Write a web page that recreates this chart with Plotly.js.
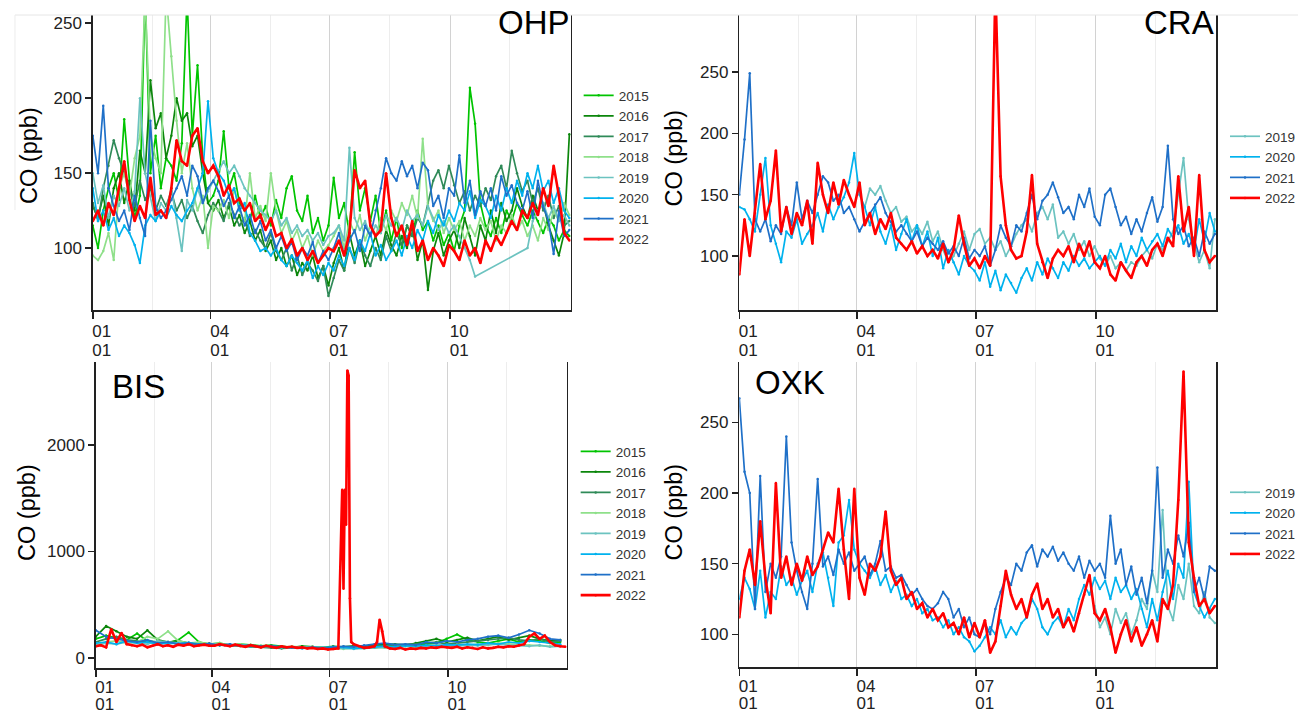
<!DOCTYPE html>
<html><head><meta charset="utf-8">
<script src="https://cdn.plot.ly/plotly-3.0.1.min.js"></script>
<style>html,body{margin:0;padding:0;background:#fff}#chart{width:1301px;height:713px}</style>
</head><body><div id="chart"></div>
<script>
// ---------- DATA ----------
const years = ['2015','2016','2017','2018','2019','2020','2021','2022'];
const stations = ['OHP','CRA','BIS','OXK'];
const monthLabels = ['01','04','07','10'];
const dayLabels = ['01','01','01','01'];
const tickDates = ['2022-01-01','2022-04-01','2022-07-01','2022-10-01'];
const minorDates = ['2022-02-15 06:00','2022-05-16 18:00','2022-08-16','2022-11-15 12:00'];
function gap(n){ const a=[]; for(let i=0;i<n;i++) a.push(null); return a; }

// sampling grids (day of year)
const days4 = []; for (let d=0; d<=364; d+=4) days4.push(d);
const days8 = []; for (let d=0; d<=360; d+=8) days8.push(d);

// OHP (8 years, 4-day samples)
const ohp2015 = [115,100,125,140,150,132,186,145,120,135,270,150,175,140,160,155,145,170,268,175,222,160,130,
 135,145,178,140,150,130,125,118,135,120,128,115,132,120,140,148,125,118,135,110,120,105,115,
 147,120,130,110,164,125,140,118,135,110,125,105,120,100,115,108,125,112,118,105,115,102,110,
 98,115,125,207,183,130,115,108,120,110,125,118,130,122,115,125,118,110,120,115,105,112,108];
const ohp2016 = [128,120,135,115,140,150,130,145,125,165,150,212,180,190,160,175,200,185,190,168,175,150,130,
 125,132,120,128,115,122,110,118,105,112,98,105,92,100,88,95,82,90,85,95,80,88,75,
 90,100,85,110,95,105,88,98,108,95,112,102,95,108,100,115,92,105,72,98,110,95,105,
 112,100,120,108,95,115,105,125,110,130,118,125,140,128,120,135,125,130,115,105,95,110,176];
const ohp2017 = [130,118,140,155,172,160,150,140,128,145,132,140,125,135,128,138,125,132,120,128,118,110,122,
 130,125,118,130,122,115,120,108,112,105,100,110,98,92,100,85,95,82,90,85,78,88,68,
 80,92,85,100,90,105,95,88,100,92,108,98,110,102,115,108,120,115,130,145,152,140,155,
 142,130,138,125,135,128,140,132,148,155,140,165,150,138,145,130,140,125,135,120,128,115,118];
const ohp2018 = [95,92,98,110,92,140,150,135,160,175,268,175,160,150,270,228,185,150,170,140,125,135,100,
 128,125,132,120,140,125,118,150,120,128,118,150,125,110,118,105,112,100,108,95,105,98,102,
 108,115,100,118,110,122,105,115,108,120,112,125,118,130,122,135,120,173,128,118,125,110,120,
 112,118,105,115,108,120,112,118,105,115,110,122,112,118,108,115,105,120,112,125,118,130,122];
const ohp2019 = [150,130,142,120,135,128,140,125,138,200,150,135,118,130,125,140,120,98,132,125,140,130,138,
 145,152,158,150,155,148,140,135,130,125,122,118,125,115,120,110,115,108,112,105,110,102,108,
 110,115,105,167,120,112,118,108,115,110,122,115,120,112,125,118,122,115,128,120,112,118,110,
 115,108,100,92,81,null,null,null,null,null,null,null,null,null,100,118,125,130,120,128,118,122,115];
const ohp2020 = [140,118,125,112,120,108,115,110,102,90,115,122,118,125,120,128,122,118,125,130,140,150,198,
 160,150,145,135,140,125,130,110,105,98,100,95,100,92,88,95,90,85,92,80,88,82,90,
 85,95,88,100,92,105,98,110,95,102,92,98,105,95,108,100,112,105,118,110,122,115,125,
 118,130,125,138,120,132,128,120,135,125,140,130,145,135,150,140,155,138,145,130,140,125,120];
const ohp2021 = [175,150,195,140,128,118,125,112,135,120,108,185,128,120,125,132,140,148,135,155,148,130,140,
 145,138,128,135,120,128,115,122,110,118,105,112,100,108,98,104,92,100,95,104,90,98,92,
 100,110,95,105,112,98,115,108,125,140,160,150,145,158,148,155,140,157,152,128,135,120,140,
 135,162,130,145,122,138,128,140,125,148,135,142,130,125,138,120,145,128,118,96,125,108,112];
const ohp2022 = [118,125,115,130,122,140,158,132,118,128,120,147,122,125,120,140,172,158,155,175,180,158,150,
 155,148,135,142,130,133,125,130,118,122,112,120,108,110,100,106,95,100,92,98,90,95,100,
 98,105,95,110,152,140,145,115,108,112,150,120,108,115,102,118,98,105,92,100,95,88,102,
 98,92,105,95,100,90,105,98,108,102,110,118,112,125,120,130,122,140,128,155,135,110,105];

// CRA (2019-2022, 4-day samples)
const cra2019 = gap(23).concat([null,140,155,150,157,145,135,140,128,132,120,125,118,128,112,120,105,95,100,110,120,105,118,
 122,110,115,105,112,100,108,118,125,130,120,135,140,130,142,115,120,110,118,105,112,100,108,
 98,92,100,90,95,88,95,92,100,105,98,110,105,112,120,150,180,130,110,95,105,90,130]);
const cra2020 = [140,138,130,120,150,180,125,110,95,120,115,130,110,118,125,135,120,142,130,140,148,160,184,
 150,140,125,140,120,110,125,105,118,130,112,125,108,120,100,115,90,105,95,85,100,92,88,
 80,95,75,88,72,85,78,70,82,90,80,95,85,98,90,82,95,88,100,92,98,90,95,
 100,92,105,98,110,95,108,100,115,105,112,118,108,122,115,125,110,118,105,130,112,135,120];
const cra2021 = [150,195,249,130,120,130,112,125,118,140,125,160,130,145,135,150,165,160,145,150,135,140,130,
 120,128,135,142,148,135,128,120,125,118,112,120,108,115,110,105,112,102,108,100,115,98,105,
 100,108,92,105,125,115,108,125,120,135,150,130,145,150,160,148,135,140,130,150,140,155,132,
 125,150,155,140,125,132,118,130,120,135,148,128,140,190,130,118,125,108,115,100,120,110,118];
const cra2022 = [85,130,100,135,175,130,145,186,120,140,118,135,125,145,110,176,150,135,160,142,162,150,140,
 160,125,135,118,130,122,135,115,110,105,112,102,108,100,105,98,110,95,105,133,110,92,98,
 90,100,92,320,165,125,105,98,100,120,166,110,95,82,98,105,100,108,95,110,100,112,95,
 90,100,85,80,95,88,82,95,100,92,105,110,100,115,108,165,120,140,100,166,105,95,100];

// BIS (2015-2021 on 8-day samples, 2022 on 4-day samples plus spike days)
const bis2015 = [180,210,190,170,230,160,150,140,170,240,150,130,140,120,130,125,115,120,110,100,110,105,100,95,100,90,100,95,110,105,120,115,130,140,180,220,170,150,140,160,180,150,170,160,140,150];
const bis2016 = [200,300,250,200,180,260,170,150,160,140,130,135,120,125,115,110,105,100,95,100,110,105,100,110,105,115,110,120,125,130,120,140,160,180,150,170,190,160,180,200,170,190,210,180,160,170];
const bis2017 = [150,180,200,170,160,150,140,150,130,135,125,120,130,115,110,105,100,95,90,95,100,95,90,100,95,105,100,110,115,120,125,130,140,150,130,140,150,160,170,180,190,170,160,180,150,160];
const bis2018 = [130,150,160,140,150,200,180,250,160,140,150,130,140,120,130,115,110,105,100,110,100,95,100,90,85,95,90,100,95,105,110,100,115,120,110,125,115,130,120,140,130,125,120,115,110,120];
const bis2019 = [120,140,130,150,140,130,160,150,140,130,120,130,125,120,115,110,105,110,100,95,100,105,100,95,90,85,90,95,100,105,110,115,110,120,115,110,120,115,125,130,120,115,110,120,105,110];
const bis2020 = [140,150,130,160,140,150,130,140,135,145,130,125,120,115,120,110,105,110,100,95,90,100,95,105,100,90,95,100,110,105,115,110,120,115,125,120,130,125,140,130,150,140,160,150,140,130];
const bis2021 = [260,200,180,160,150,170,140,150,130,140,125,135,120,130,115,120,110,115,105,100,95,100,90,100,110,105,120,130,140,125,130,120,150,140,160,150,170,180,200,210,190,220,260,230,180,170];
const bis2022 = [110,120,100,270,150,235,130,120,110,125,100,115,130,110,120,105,125,115,130,110,120,125,115,
 115,130,120,110,125,115,105,120,110,100,115,105,95,110,100,105,95,100,90,95,85,90,80,
 85,90,650,2650,130,110,95,100,110,360,110,90,85,95,80,90,85,95,90,100,95,105,100,
 95,105,90,100,95,85,100,90,95,105,100,110,105,120,130,200,230,180,210,150,120,110,105];
const bis2022SpikeDays = [191,193,194,195,197,198,218,222];
const bis2022SpikeVals = [1580,1580,1250,2700,560,150,150,250];

// OXK (2019-2022, 4-day samples)
const oxk2019 = gap(68).concat([120,
 105,112,100,118,108,115,100,110,125,118,145,130,188,120,110,135,125,150,120,115,130,112,108]);
const oxk2020 = [125,140,132,118,145,112,130,125,148,135,140,128,138,145,130,150,158,140,120,165,170,195,160,
 150,145,140,148,135,142,130,138,125,128,120,125,115,118,110,112,105,110,100,105,98,95,88,
 92,98,105,100,110,98,105,100,108,112,125,118,105,100,108,112,105,118,110,125,135,128,140,
 132,138,125,140,130,135,125,132,118,105,125,110,130,145,125,150,140,208,130,120,112,118,125];
const oxk2021 = [267,215,200,118,212,130,150,140,155,240,165,145,130,118,150,210,148,155,142,160,150,158,145,
 150,155,142,150,166,145,148,140,142,135,128,132,125,120,118,122,130,125,112,118,105,112,100,
 98,108,100,118,130,140,135,150,145,158,163,148,160,155,162,152,158,150,145,155,140,152,145,
 150,140,184,150,160,135,148,128,140,122,145,218,140,160,150,170,155,179,130,140,125,148,145];
const oxk2022 = [112,145,160,135,180,140,115,207,140,155,135,150,138,155,142,148,160,172,165,203,160,125,203,
 140,128,150,145,155,187,145,135,140,125,130,118,122,112,118,110,115,105,108,100,112,98,108,
 98,110,87,95,120,145,128,118,125,112,128,136,118,125,112,118,105,112,102,115,128,142,115,
 110,118,105,87,100,110,95,105,92,100,110,95,125,118,135,195,286,165,140,120,125,115,120];

// ---------- STYLE / BUILD ----------
const colors = {'2015':'#00c400','2016':'#0b860b','2017':'#2f8a58','2018':'#8fe08a',
  '2019':'#6cc3c0','2020':'#00b2ee','2021':'#1f70c8','2022':'#ff0000'};
function dateOf(d){ return new Date(Date.UTC(2022,0,1) + d*864e5).toISOString().slice(0,10); }
const x4 = days4.map(dateOf), x8 = days8.map(dateOf);

function tr(year, xs, ys, ax, leg, opts){
  const red = year === '2022';
  return Object.assign({
    type:'scatter', mode:'lines+markers', name:year, x:xs, y:ys,
    xaxis:'x'+ax, yaxis:'y'+ax, legend:leg, connectgaps:false,
    line:{color:colors[year], width: red?2.6:1.7},
    marker:{color:colors[year], size:2.5},
    hoverinfo:'skip'
  }, opts||{});
}
const traces = [];
const ohpData = [ohp2015,ohp2016,ohp2017,ohp2018,ohp2019,ohp2020,ohp2021,ohp2022];
years.forEach((y,i)=>traces.push(tr(y, x4, ohpData[i], '', 'legend', y==='2019'?{connectgaps:true}:{})));
[['2019',cra2019],['2020',cra2020],['2021',cra2021],['2022',cra2022]].forEach(p=>traces.push(tr(p[0], x4, p[1], '2', 'legend2')));
const bisOld = [bis2015,bis2016,bis2017,bis2018,bis2019,bis2020,bis2021];
years.slice(0,7).forEach((y,i)=>traces.push(tr(y, x8, bisOld[i], '3', 'legend3')));
const bisPts = days4.map((d,i)=>[d, bis2022[i]])
  .concat(bis2022SpikeDays.map((d,i)=>[d, bis2022SpikeVals[i]]))
  .sort((a,b)=>a[0]-b[0]);
traces.push(tr('2022', bisPts.map(p=>dateOf(p[0])), bisPts.map(p=>p[1]), '3', 'legend3'));
[['2019',oxk2019],['2020',oxk2020],['2021',oxk2021],['2022',oxk2022]].forEach(p=>traces.push(tr(p[0], x4, p[1], '4', 'legend4')));
// empty traces so the day-row axes (x5..x8) are drawn
[['5',''],['6','2'],['7','3'],['8','4']].forEach(p=>traces.push({type:'scatter', x:[], y:[], xaxis:'x'+p[0], yaxis:'y'+p[1], showlegend:false, hoverinfo:'skip'}));

const W=1301, H=713;
const PX = v=>v/W, PY = v=>1-v/H;
const tfont = {family:'Liberation Sans, Arial, Helvetica, sans-serif', size:17, color:'#222'};
function xax(x0,x1,anchor,standoff){
  return {domain:[PX(x0),PX(x1)], anchor:anchor, type:'date',
    range:['2022-01-01','2023-01-01'], tickmode:'array', tickvals:tickDates, ticktext:monthLabels,
    ticks:'outside', ticklen:7, tickwidth:1.5, tickcolor:'#222',
    showline:true, linecolor:'#222', linewidth:1.5,
    showgrid:true, gridcolor:'#d2d2d2', gridwidth:1, zeroline:false,
    ticklabelshift:9, ticklabelstandoff:standoff, tickfont:tfont, fixedrange:true,
    minor:{tickmode:'array', tickvals:minorDates, showgrid:true, gridcolor:'#ededed', gridwidth:1, ticks:''}};
}
function xdayax(over,anchor,standoff){
  return {overlaying:over, anchor:anchor, type:'date', side:'bottom',
    range:['2022-01-01','2023-01-01'], tickmode:'array', tickvals:tickDates, ticktext:dayLabels,
    ticks:'', showline:false, showgrid:false, zeroline:false,
    ticklabelshift:9, ticklabelstandoff:standoff, tickfont:tfont, fixedrange:true};
}
function yax(y0,y1,anchor,range,tv){
  return {domain:[PY(y1),PY(y0)], anchor:anchor, range:range, tickmode:'array', tickvals:tv,
    ticks:'outside', ticklen:6, tickwidth:1.5, tickcolor:'#222',
    showline:true, mirror:true, linecolor:'#222', linewidth:1.5,
    showgrid:false, zeroline:false, tickfont:tfont, fixedrange:true};
}
const legFont = {family:'Liberation Sans, Arial, sans-serif', size:13.5, color:'#333'};
function leg(x,yTop){ return {x:PX(x), y:PY(yTop), xanchor:'left', yanchor:'top', font:legFont,
  itemwidth:30, bgcolor:'rgba(0,0,0,0)', borderwidth:0, tracegroupgap:0}; }

function ann(text,x,y,size,opts){ return Object.assign({text:text, xref:'paper', yref:'paper', x:PX(x), y:PY(y),
  xanchor:'center', yanchor:'middle', showarrow:false,
  font:{family:'Liberation Sans, Arial, sans-serif', size:size, color:'#000'}}, opts||{}); }

const layout = {
  width:W, height:H, margin:{l:0,r:0,t:0,b:0}, paper_bgcolor:'#fff', plot_bgcolor:'#fff',
  showlegend:true,
  xaxis:  xax(93,572,'y',-2),    yaxis:  yax(15,310,'x',[58.7,255.5],[100,150,200,250]),
  xaxis2: xax(741,1219,'y2',-2), yaxis2: yax(15,310,'x2',[56,296.5],[100,150,200,250,300]),
  xaxis3: xax(96,568,'y3',-4),   yaxis3: yax(362,668,'x3',[-94,2779],[0,1000,2000]),
  xaxis4: xax(741,1219,'y4',-4), yaxis4: yax(362,667,'x4',[76.9,292.7],[100,150,200,250]),
  xaxis5: xdayax('x','y',28), xaxis6: xdayax('x2','y2',28),
  xaxis7: xdayax('x3','y3',24), xaxis8: xdayax('x4','y4',24),
  legend: leg(580,80), legend2: leg(1228,121), legend3: leg(577,436), legend4: leg(1228,477),
  annotations:[
    ann('OHP',573,23,33,{xanchor:'right'}),
    ann('CRA',1219,23,33,{xanchor:'right'}),
    ann('BIS',110,386,33,{xanchor:'left'}),
    ann('OXK',755,382,33,{xanchor:'left'}),
    ann('CO (ppb)',29,155,23.5,{textangle:-90}),
    ann('CO (ppb)',676,158,23.5,{textangle:-90}),
    ann('CO (ppb)',27,512,23.5,{textangle:-90}),
    ann('CO (ppb)',676,512,23.5,{textangle:-90})
  ],
  shapes:[
    {type:'line', xref:'paper', yref:'paper', x0:PX(15), x1:1, y0:PY(15), y1:PY(15), line:{color:'#e6e6e6', width:1}},
    {type:'line', xref:'paper', yref:'paper', x0:PX(15), x1:PX(15), y0:PY(15), y1:PY(210), line:{color:'#ececec', width:1}}
  ]
};
Plotly.newPlot('chart', traces, layout, {staticPlot:true, displayModeBar:false});
</script></body></html>
